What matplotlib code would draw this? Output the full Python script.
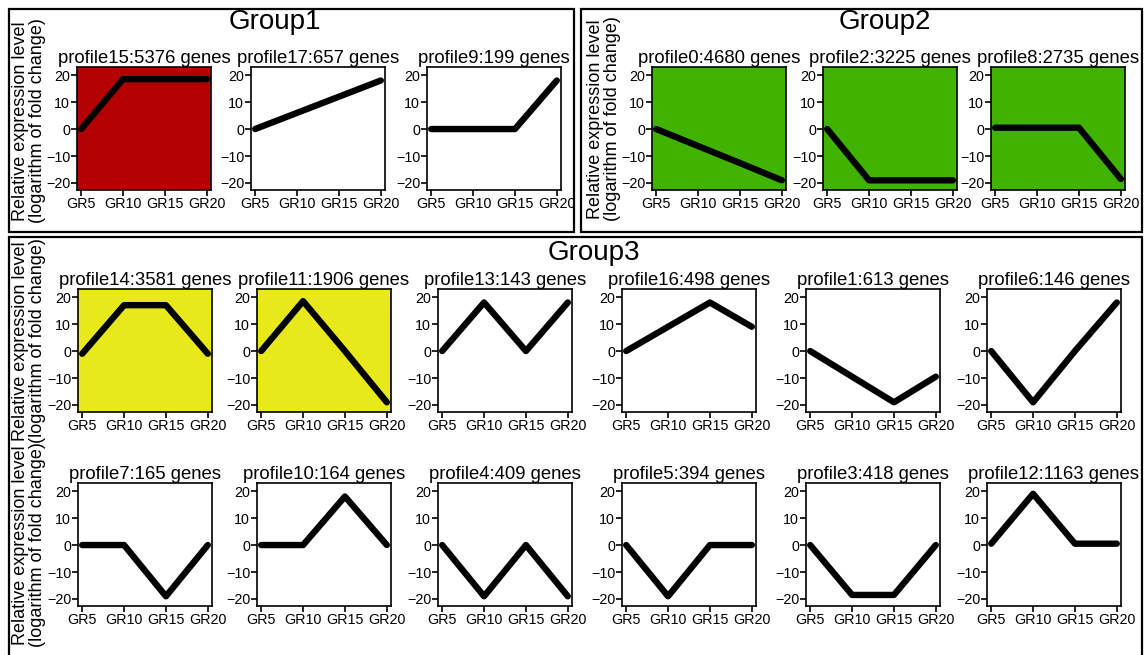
import matplotlib
matplotlib.use('Agg')
from matplotlib import pyplot as plt
import matplotlib.patches as patches

plt.rcParams['font.family'] = ['Liberation Sans', 'DejaVu Sans']

W, H = 1145, 655

stages = ['GR5', 'GR10', 'GR15', 'GR20']
yticks = [-20, -10, 0, 10, 20]

# group 1
g1_names = ['profile15', 'profile17', 'profile9']
g1_genes = [5376, 657, 199]
g1_values = [[0, 18.5, 18.5, 18.5],
             [0, 6, 12, 18],
             [0, 0, 0, 18]]
g1_colors = ['#b40000', 'white', 'white']

# group 2
g2_names = ['profile0', 'profile2', 'profile8']
g2_genes = [4680, 3225, 2735]
g2_values = [[0, -6.3, -12.6, -19],
             [0, -19, -19, -19],
             [0.5, 0.5, 0.5, -18.5]]
g2_colors = ['#40b200', '#40b200', '#40b200']

# group 3, two rows
g3_names = ['profile14', 'profile11', 'profile13', 'profile16', 'profile1', 'profile6',
            'profile7', 'profile10', 'profile4', 'profile5', 'profile3', 'profile12']
g3_genes = [3581, 1906, 143, 498, 613, 146,
            165, 164, 409, 394, 418, 1163]
g3_values = [[-1, 17, 17, -1],
             [0, 18.5, 0, -19],
             [0, 18, 0, 18],
             [0, 9, 18, 9],
             [0, -9.5, -19, -9.5],
             [0, -19, 0, 18],
             [0, 0, -19, 0],
             [0, 0, 18, 0],
             [0, -19, 0, -19],
             [0, -19, 0, 0],
             [0, -18.5, -18.5, 0],
             [0.5, 19, 0.5, 0.5]]
g3_colors = ['#e8e81a', '#e8e81a', 'white', 'white', 'white', 'white',
             'white', 'white', 'white', 'white', 'white', 'white']

ylab = 'Relative expression level\n(logarithm of fold change)'


def px_rect(l, t, w, h):
    return [l / W, 1 - (t + h) / H, w / W, h / H]


def draw_panel(fig, left, top, name, genes, vals, color):
    ax = fig.add_axes(px_rect(left, top, 134, 123))
    ax.set_facecolor(color)
    ax.plot(range(len(stages)), vals, color='black', lw=4.6, solid_capstyle='round',
            solid_joinstyle='round')
    ax.set_xlim(-0.1, 3.1)
    ax.set_ylim(-22.6, 23)
    ax.set_xticks(range(len(stages)))
    ax.set_xticklabels(stages)
    ax.set_yticks(yticks)
    ax.tick_params(labelsize=10.3, length=4, width=1.2, pad=1, colors='black')
    for s in ax.spines.values():
        s.set_linewidth(1.2)
    ax.set_title('%s:%d genes' % (name, genes), fontsize=13.3, pad=3)
    return ax


fig = plt.figure(figsize=(W / 100, H / 100), dpi=100)

# group frames
for (l, t, r, b) in [(9, 9, 574, 232), (581, 9, 1142, 232), (9, 237, 1142, 662)]:
    fig.add_artist(patches.Rectangle((l / W, 1 - b / H), (r - l) / W, (b - t) / H,
                                     transform=fig.transFigure, fill=False,
                                     edgecolor='black', linewidth=1.6))

fig.text(275 / W, 1 - 22 / H, 'Group1', fontsize=20, ha='center', va='center')
fig.text(885 / W, 1 - 22 / H, 'Group2', fontsize=20, ha='center', va='center')
fig.text(594 / W, 1 - 253 / H, 'Group3', fontsize=20, ha='center', va='center')

g1_lefts = [77, 251, 427]
for i in range(3):
    draw_panel(fig, g1_lefts[i], 67, g1_names[i], g1_genes[i], g1_values[i], g1_colors[i])

g2_lefts = [652, 823, 991]
for i in range(3):
    draw_panel(fig, g2_lefts[i], 67, g2_names[i], g2_genes[i], g2_values[i], g2_colors[i])

g3_lefts = [78, 257, 438, 622, 806, 987]
g3_tops = [289, 483]
for i in range(12):
    r, c = divmod(i, 6)
    draw_panel(fig, g3_lefts[c], g3_tops[r], g3_names[i], g3_genes[i], g3_values[i],
               g3_colors[i])

for (x, y) in [(29, 121), (604, 119), (29, 341), (29, 545)]:
    fig.text(x / W, 1 - y / H, ylab, fontsize=13, rotation=90, ha='center', va='center',
             multialignment='center', linespacing=1.0)

fig.savefig('out.png', dpi=100)
